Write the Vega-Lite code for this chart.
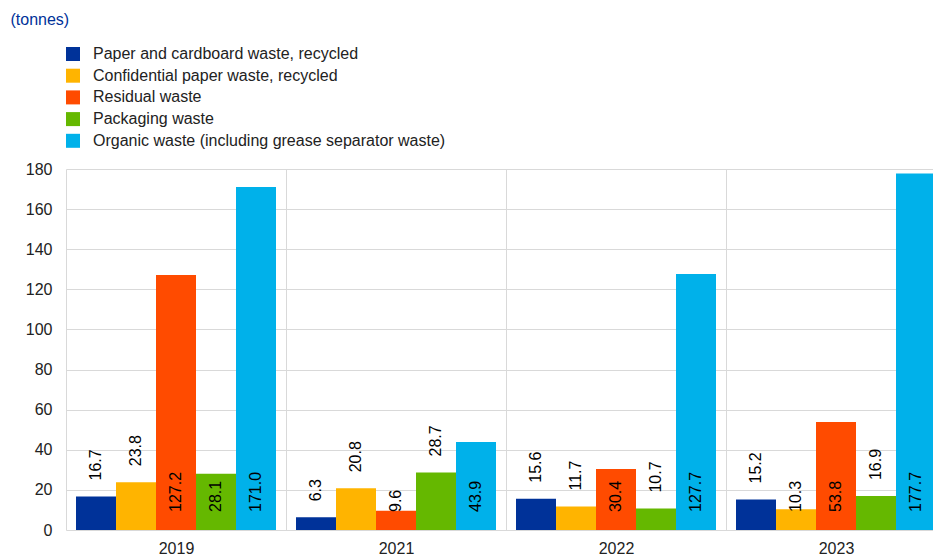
{
  "$schema": "https://vega.github.io/schema/vega-lite/v6.json",
  "width": 880,
  "height": 361,
  "autosize": "none",
  "padding": {"left": 66, "top": 169, "right": 0, "bottom": 26},
  "background": "white",
  "config": {"font": "Liberation Sans", "view": {"stroke": null}},
  "data": {
    "values": [
      {"year": "2019", "category": "Paper and cardboard waste, recycled", "value": 16.7},
      {"year": "2019", "category": "Confidential paper waste, recycled", "value": 23.8},
      {"year": "2019", "category": "Residual waste", "value": 127.2},
      {"year": "2019", "category": "Packaging waste", "value": 28.1},
      {"year": "2019", "category": "Organic waste (including grease separator waste)", "value": 171.0},
      {"year": "2021", "category": "Paper and cardboard waste, recycled", "value": 6.3},
      {"year": "2021", "category": "Confidential paper waste, recycled", "value": 20.8},
      {"year": "2021", "category": "Residual waste", "value": 9.6},
      {"year": "2021", "category": "Packaging waste", "value": 28.7},
      {"year": "2021", "category": "Organic waste (including grease separator waste)", "value": 43.9},
      {"year": "2022", "category": "Paper and cardboard waste, recycled", "value": 15.6},
      {"year": "2022", "category": "Confidential paper waste, recycled", "value": 11.7},
      {"year": "2022", "category": "Residual waste", "value": 30.4},
      {"year": "2022", "category": "Packaging waste", "value": 10.7},
      {"year": "2022", "category": "Organic waste (including grease separator waste)", "value": 127.7},
      {"year": "2023", "category": "Paper and cardboard waste, recycled", "value": 15.2},
      {"year": "2023", "category": "Confidential paper waste, recycled", "value": 10.3},
      {"year": "2023", "category": "Residual waste", "value": 53.8},
      {"year": "2023", "category": "Packaging waste", "value": 16.9},
      {"year": "2023", "category": "Organic waste (including grease separator waste)", "value": 177.7}
    ]
  },
  "encoding": {
    "x": {
      "field": "year",
      "type": "nominal",
      "scale": {"paddingInner": 0, "paddingOuter": 0},
      "axis": {
        "title": null,
        "labelAngle": 0,
        "ticks": false,
        "domain": false,
        "grid": true,
        "tickBand": "extent",
        "gridColor": "#d9d9d9",
        "gridWidth": 1,
        "labelFontSize": 16,
        "labelColor": "#222222",
        "labelPadding": 10
      }
    },
    "xOffset": {
      "field": "category",
      "type": "nominal",
      "sort": [
        "Paper and cardboard waste, recycled",
        "Confidential paper waste, recycled",
        "Residual waste",
        "Packaging waste",
        "Organic waste (including grease separator waste)"
      ],
      "scale": {"paddingInner": 0, "paddingOuter": 0.25}
    }
  },
  "layer": [
    {
      "mark": {"type": "bar"},
      "encoding": {
        "y": {
          "field": "value",
          "type": "quantitative",
          "scale": {"domain": [0, 180]},
          "axis": {
            "values": [0, 20, 40, 60, 80, 100, 120, 140, 160, 180],
            "grid": true,
            "gridColor": "#d9d9d9",
            "gridWidth": 1,
            "domain": false,
            "ticks": false,
            "labelFontSize": 16,
            "labelPadding": 14,
            "labelColor": "#222222",
            "title": "(tonnes)",
            "titleAngle": 0,
            "titleAlign": "left",
            "titleBaseline": "alphabetic",
            "titleX": -56,
            "titleY": -145,
            "titleFontSize": 16,
            "titleFontWeight": "normal",
            "titleColor": "#003299"
          }
        },
        "color": {
          "field": "category",
          "type": "nominal",
          "scale": {
            "domain": [
              "Paper and cardboard waste, recycled",
              "Confidential paper waste, recycled",
              "Residual waste",
              "Packaging waste",
              "Organic waste (including grease separator waste)"
            ],
            "range": ["#003299", "#FFB400", "#FF4B00", "#65B800", "#00B1EA"]
          },
          "legend": {
            "orient": "none",
            "legendX": -1,
            "legendY": -123,
            "title": null,
            "symbolType": "square",
            "symbolSize": 196,
            "symbolStrokeWidth": 0,
            "labelFontSize": 16,
            "labelColor": "#222222",
            "labelOffset": 12,
            "labelLimit": 0,
            "rowPadding": 5.7
          }
        }
      }
    },
    {
      "transform": [
        {"filter": "!(datum.category == 'Residual waste' || datum.category == 'Organic waste (including grease separator waste)' || (datum.year == '2023' && datum.category == 'Confidential paper waste, recycled') || (datum.year == '2019' && datum.category == 'Packaging waste'))"}
      ],
      "mark": {"type": "text", "angle": 270, "align": "left", "baseline": "middle", "dx": 16, "fontSize": 16, "color": "#000000"},
      "encoding": {
        "y": {"field": "value", "type": "quantitative"},
        "text": {"field": "value", "type": "quantitative", "format": ".1f"}
      }
    },
    {
      "transform": [
        {"filter": "datum.category == 'Residual waste' || datum.category == 'Organic waste (including grease separator waste)' || (datum.year == '2023' && datum.category == 'Confidential paper waste, recycled') || (datum.year == '2019' && datum.category == 'Packaging waste')"}
      ],
      "mark": {"type": "text", "angle": 270, "align": "left", "baseline": "middle", "dx": 18, "fontSize": 16, "color": "#000000"},
      "encoding": {
        "y": {"datum": 0, "type": "quantitative"},
        "text": {"field": "value", "type": "quantitative", "format": ".1f"}
      }
    }
  ]
}
